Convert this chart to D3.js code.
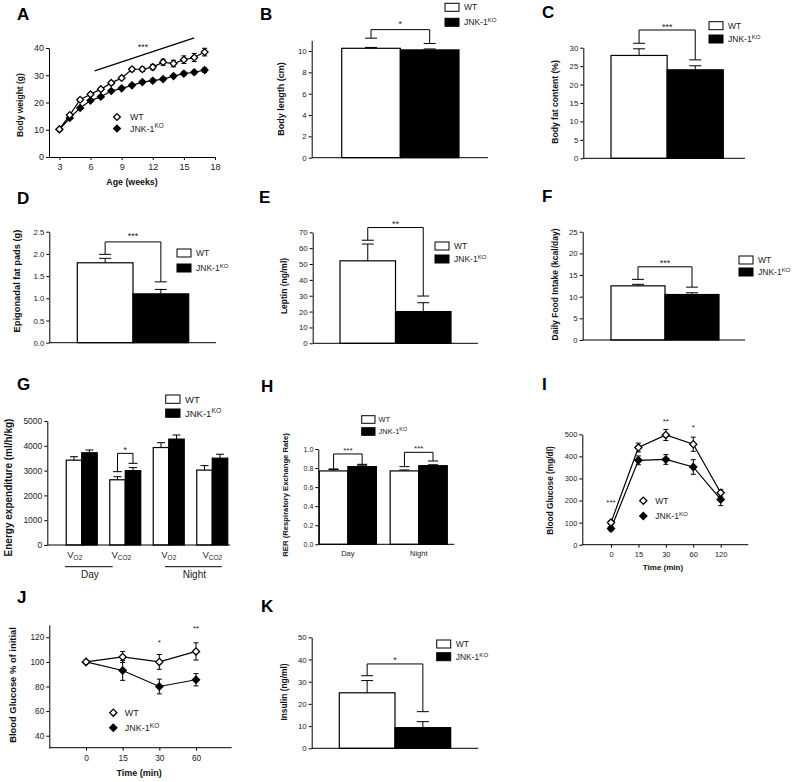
<!DOCTYPE html>
<html><head><meta charset="utf-8">
<script src="https://cdn.jsdelivr.net/npm/d3@7"></script>
<style>body{margin:0;background:#fff} svg{font-family:"Liberation Sans",Arial,sans-serif}</style>
</head><body><script>
// ---------------- DATA ----------------
const groupNames = ["WT", "JNK-1"];
const groupSups = ["", "KO"];
// A: body weight
const ages = [3,4,5,6,7,8,9,10,11,12,13,14,15,16,17];
const weightWT = [10.2,15.4,21,23,24.9,27.2,29,32.2,32.2,33,34.8,34.3,35.7,36.5,38.5];
const weightWTErr = [0.3,0.4,0.5,0.5,0.5,0.6,0.6,0.7,0.8,1.0,1.1,1.2,1.4,1.5,1.4];
const weightKO = [10.1,14.3,18,20.7,22.1,24.2,25.2,26.3,27.5,28,28.6,29.7,30.6,31.1,31.9];
const weightKOErr = [0.3,0.4,0.4,0.5,0.5,0.5,0.5,0.5,0.6,0.6,0.6,0.6,0.7,0.7,0.8];
const weightTicksX = [3,6,9,12,15,18];
const weightTicksY = [0,10,20,30,40];
const weightSigLine = [[6.4,31.6],[16,43.7]];
// B: body length
const bodyLength = [10.25, 10.1];
const bodyLengthErr = [0.08, 0.09];
const bodyLengthBracket = [11.2, 10.7, 12];
const bodyLengthTicks = [0,2,4,6,8,10];
// C: body fat
const bodyFat = [27.9, 24.0];
const bodyFatErr = [1.8, 1.1];
const bodyFatBracket = [31.2, 26.7, 34.8];
const bodyFatTicks = [0,5,10,15,20,25,30];
// D: epigonadal fat pads
const fatPads = [1.8, 1.1];
const fatPadsErr = [0.1, 0.1];
const fatPadsBracket = [1.99, 1.37, 2.27];
const fatPadsTicks = [0,0.5,1,1.5,2,2.5];
// E: leptin
const leptin = [52, 20];
const leptinErr = [10.6, 5.6];
const leptinBracket = [65, 29.8, 73];
const leptinTicks = [0,10,20,30,40,50,60,70];
// F: food intake
const foodIntake = [12.5, 10.5];
const foodIntakeErr = [0.35, 0.4];
const foodIntakeBracket = [14.0, 12.2, 16.9];
const foodIntakeTicks = [0,5,10,15,20,25];
// G: energy expenditure
const eeCategories = ["Day VO2","Day VCO2","Night VO2","Night VCO2"];
const eeSubs = ["O2","CO2","O2","CO2"];
const eePeriods = ["Day","Night"];
const eeWT = [3420, 2630, 3930, 3020];
const eeWTErr = [140, 125, 195, 180];
const eeKO = [3720, 3000, 4270, 3500];
const eeKOErr = [110, 120, 165, 160];
const eeBracket = [2957, 3293, 3696];
const eeTicks = [0,1000,2000,3000,4000,5000];
// H: RER
const rerPeriods = ["Day","Night"];
const rerWT = [0.77, 0.77];
const rerWTErr = [0.015, 0.01];
const rerKO = [0.815, 0.825];
const rerKOErr = [0.015, 0.01];
const rerBrackets = [[0.79, 0.839, 0.948],[0.815, 0.874, 0.965]];
const rerTicks = [0,0.2,0.4,0.6,0.8,1.0];
// I: glucose tolerance
const gttTimes = ["0","15","30","60","120"];
const gttWT = [100, 440, 497, 455, 235];
const gttWTErr = [8, 20, 25, 32, 15];
const gttKO = [73, 382, 386, 352, 205];
const gttKOErr = [10, 20, 22, 33, 28];
const gttStars = ["***","","**","*",""];
const gttStarLevel = [202, 0, 569, 542, 0];
const gttTicks = [0,100,200,300,400,500];
// J: insulin tolerance
const ittTimes = ["0","15","30","60"];
const ittWT = [100, 104, 100, 108.5];
const ittWTErr = [0, 4.5, 6, 7];
const ittKO = [100, 93, 80, 85.5];
const ittKOErr = [0, 8, 6, 5];
const ittStars = ["","","*","**"];
const ittStarLevel = [0, 0, 117.8, 128.7];
const ittTicks = [40,60,80,100,120];
// K: insulin
const insulin = [25, 9.3];
const insulinErr = [5.5, 2.7];
const insulinBracket = [32.7, 16.5, 38];
const insulinTicks = [0,10,20,30,40,50];

// ---------------- HELPERS ----------------
const svg = d3.select("body").append("svg").attr("width",796).attr("height",782);
const FONT = '"Liberation Sans", Arial, sans-serif';
const TXT = "#222";

function letter(t,x,y){ svg.append("text").attr("x",x).attr("y",y).attr("font-size",17).attr("font-weight","bold").text(t); }
function ytitle(t,cx,cy,fs){
  svg.append("text").attr("transform",`translate(${cx+0.26*fs},${cy}) rotate(-90)`)
    .attr("text-anchor","middle").attr("font-size",fs).attr("font-weight","bold").attr("fill","#111").text(t);
}
function xtitle(t,cx,y,fs){
  svg.append("text").attr("x",cx).attr("y",y).attr("text-anchor","middle").attr("font-size",fs).attr("font-weight","bold").attr("fill","#111").text(t);
}
function styleAxis(g,fs){
  g.attr("font-family",FONT).attr("font-size",fs);
  g.selectAll("path,line").attr("stroke","#000").attr("stroke-width",1);
  g.selectAll("text").attr("fill",TXT);
}
function yAxis(scale,x,ticks,fmt,fs){
  const g = svg.append("g").attr("transform",`translate(${x},0)`)
    .call(d3.axisLeft(scale).tickValues(ticks).tickFormat(fmt).tickSize(3).tickSizeOuter(0).tickPadding(2));
  styleAxis(g,fs);
  return g;
}
function hline(x1,x2,y){ svg.append("line").attr("x1",x1).attr("x2",x2).attr("y1",y).attr("y2",y).attr("stroke","#000").attr("stroke-width",1); }
function labelText(sel,i,fs){
  sel.text(groupNames[i]);
  if (groupSups[i]) sel.append("tspan").attr("font-size",fs*0.72).attr("dy",-fs*0.38).text(groupSups[i]);
}
function boxLegend(x,y,bw,bh,gap,fs,tx){
  groupNames.forEach((n,i)=>{
    svg.append("rect").attr("x",x).attr("y",y+i*gap).attr("width",bw).attr("height",bh)
      .attr("fill",i?"#000":"#fff").attr("stroke","#000").attr("stroke-width",1);
    const t = svg.append("text").attr("x",x+bw+tx).attr("y",y+i*gap+bh/2+fs*0.36).attr("font-size",fs).attr("fill",TXT);
    labelText(t,i,fs);
  });
}
function diamond(r){ return `M0,${-r}L${r},0L0,${r}L${-r},0Z`; }
function symLegend(x,y,gap,fs,tx,r){
  groupNames.forEach((n,i)=>{
    svg.append("path").attr("d",diamond(r)).attr("transform",`translate(${x},${y+i*gap})`)
      .attr("fill",i?"#000":"#fff").attr("stroke","#000").attr("stroke-width",1.3);
    const t = svg.append("text").attr("x",x+tx).attr("y",y+i*gap+fs*0.36).attr("font-size",fs).attr("fill",TXT);
    labelText(t,i,fs);
  });
}
function errBar(x,yTopPx,yBase,capW){
  svg.append("line").attr("x1",x).attr("x2",x).attr("y1",yBase).attr("y2",yTopPx).attr("stroke","#000").attr("stroke-width",1);
  hline(x-capW/2,x+capW/2,yTopPx);
}
function bracket(xA,xB,yA,yB,yT,capW,stars,fs,starGap){
  svg.append("path").attr("d",`M${xA},${yA}V${yT}H${xB}V${yB}`).attr("fill","none").attr("stroke","#000").attr("stroke-width",1);
  hline(xA-capW/2,xA+capW/2,yA);
  hline(xB-capW/2,xB+capW/2,yB);
  svg.append("text").attr("x",(xA+xB)/2).attr("y",yT-starGap+fs*0.58).attr("text-anchor","middle").attr("font-size",fs).attr("fill",TXT).text(stars);
}

// two-bar panel
function barPanel(o){
  const y = d3.scaleLinear().domain(o.domain).range([o.y0,o.yTop]);
  const x = d3.scaleBand().domain(groupNames).range(o.barRange);
  const bw = x.bandwidth();
  svg.append("g").selectAll("rect").data(o.values).join("rect")
    .attr("x",(d,i)=>x(groupNames[i])).attr("y",d=>y(d)).attr("width",bw).attr("height",d=>o.y0-y(d))
    .attr("fill",(d,i)=>i?"#000":"#fff").attr("stroke","#000").attr("stroke-width",1.2);
  o.values.forEach((v,i)=>{
    const cx = x(groupNames[i])+bw/2;
    errBar(cx,y(v+o.errs[i]),y(v),12);
  });
  const cA = x(groupNames[0])+bw/2, cB = x(groupNames[1])+bw/2;
  bracket(cA,cB,y(o.bracket[0]),y(o.bracket[1]),y(o.bracket[2]),12,o.stars,9,o.starGap||6);
  yAxis(y,o.axisX,o.ticks,o.fmt||d3.format("d"),o.tickFs||7.8);
  hline(o.axisX,o.xEnd,o.y0);
  boxLegend(o.leg[0],o.leg[1],14,8,o.leg[2],8.5,5);
  ytitle(o.title,o.tx,o.ty,o.tfs||8.5);
}

// line series with error bars
function series(xs,ys,vals,errs,fill,capW,r){
  const line = d3.line().x((d,i)=>xs(i)).y(d=>ys(d));
  svg.append("path").attr("d",line(vals)).attr("fill","none").attr("stroke","#000").attr("stroke-width",1.2);
  vals.forEach((v,i)=>{
    if (errs[i]>0){
      const cx = xs(i);
      svg.append("line").attr("x1",cx).attr("x2",cx).attr("y1",ys(v-errs[i])).attr("y2",ys(v+errs[i])).attr("stroke","#000").attr("stroke-width",1);
      hline(cx-capW/2,cx+capW/2,ys(v-errs[i]));
      hline(cx-capW/2,cx+capW/2,ys(v+errs[i]));
    }
  });
  svg.append("g").selectAll("path").data(vals).join("path").attr("d",diamond(r))
    .attr("transform",(d,i)=>`translate(${xs(i)},${ys(d)})`)
    .attr("fill",fill).attr("stroke","#000").attr("stroke-width",1.3);
}

// ---------------- A ----------------
letter("A",17,20);
{
  const x = d3.scaleLinear().domain([2,18]).range([49,215]);
  const y = d3.scaleLinear().domain([0,40]).range([157,48]);
  svg.append("line").attr("x1",x(weightSigLine[0][0])).attr("y1",y(weightSigLine[0][1]))
    .attr("x2",x(weightSigLine[1][0])).attr("y2",y(weightSigLine[1][1])).attr("stroke","#000").attr("stroke-width",1.2);
  svg.append("text").attr("x",143).attr("y",50).attr("text-anchor","middle").attr("font-size",9).attr("fill",TXT).text("***");
  const xs = i=>x(ages[i]);
  series(xs,y,weightKO,weightKOErr,"#000",5,3.4);
  series(xs,y,weightWT,weightWTErr,"#fff",5,3.4);
  yAxis(y,49,weightTicksY,d3.format("d"),9);
  const gx = svg.append("g").attr("transform","translate(0,157)")
    .call(d3.axisBottom(x).tickValues(weightTicksX).tickSize(3).tickSizeOuter(0).tickPadding(4));
  styleAxis(gx,9);
  symLegend(117,117,11.5,8.8,13,3.4);
  ytitle("Body weight (g)",20.8,105,8.5);
  xtitle("Age (weeks)",132,184.5,8.8);
}

// ---------------- B-F, K ----------------
letter("B",260,20);
barPanel({values:bodyLength,errs:bodyLengthErr,bracket:bodyLengthBracket,stars:"*",starGap:7.5,
  domain:[0,11],y0:157.7,yTop:40.3,barRange:[341.7,459],axisX:311.7,xEnd:488,ticks:bodyLengthTicks,
  leg:[445,3.3,15],title:"Body length (cm)",tx:282,ty:99,tfs:9});
letter("C",542,18);
barPanel({values:bodyFat,errs:bodyFatErr,bracket:bodyFatBracket,stars:"***",starGap:5,
  domain:[0,30],y0:158.3,yTop:47.7,barRange:[611,723.3],axisX:583.3,xEnd:745,ticks:bodyFatTicks,
  leg:[709,21.7,13.3],title:"Body fat content (%)",tx:556,ty:102,tfs:8.6});
letter("D",17,204);
barPanel({values:fatPads,errs:fatPadsErr,bracket:fatPadsBracket,stars:"***",starGap:8.5,
  domain:[0,2.5],y0:342.7,yTop:231.7,barRange:[77.3,188.7],axisX:49.3,xEnd:216,ticks:fatPadsTicks,fmt:d3.format(".1f"),
  leg:[177,249,15],title:"Epigonadal fat pads (g)",tx:17.5,ty:281,tfs:9.3});
letter("E",259,203);
barPanel({values:leptin,errs:leptinErr,bracket:leptinBracket,stars:"**",starGap:5.5,
  domain:[0,70],y0:343.3,yTop:232.3,barRange:[340,451],axisX:312.7,xEnd:478,ticks:leptinTicks,
  leg:[435,242,13],title:"Leptin (ng/ml)",tx:284.7,ty:286,tfs:8.5});
letter("F",542,202);
barPanel({values:foodIntake,errs:foodIntakeErr,bracket:foodIntakeBracket,stars:"***",starGap:5.7,
  domain:[0,25],y0:340,yTop:231.7,barRange:[611,719],axisX:582.7,xEnd:745,ticks:foodIntakeTicks,
  leg:[739,256,12],title:"Daily Food Intake (kcal/day)",tx:556,ty:284.5,tfs:8.5});
letter("K",261,612);
barPanel({values:insulin,errs:insulinErr,bracket:insulinBracket,stars:"*",starGap:6.3,
  domain:[0,50],y0:748.3,yTop:637.3,barRange:[339.3,450.7],axisX:311.7,xEnd:478.3,ticks:insulinTicks,
  leg:[436.7,640,12.7],title:"Insulin (ng/ml)",tx:284.5,ty:692,tfs:8.4});

// ---------------- G ----------------
letter("G",17,390);
{
  const y = d3.scaleLinear().domain([0,5000]).range([545,421]);
  const x0 = d3.scaleBand().domain(eeCategories).range([60,234]).paddingInner(0.2874).paddingOuter(0.1437);
  const x1 = d3.scaleBand().domain(groupNames).range([0,x0.bandwidth()]);
  const bw = x1.bandwidth();
  const sets = [[eeWT,eeWTErr],[eeKO,eeKOErr]];
  sets.forEach(([vals,errs],gi)=>{
    svg.append("g").selectAll("rect").data(vals).join("rect")
      .attr("x",(d,i)=>x0(eeCategories[i])+x1(groupNames[gi])).attr("y",d=>y(d))
      .attr("width",bw).attr("height",d=>545-y(d))
      .attr("fill",gi?"#000":"#fff").attr("stroke","#000").attr("stroke-width",1.2);
    vals.forEach((v,i)=>{
      const cx = x0(eeCategories[i])+x1(groupNames[gi])+bw/2;
      errBar(cx,y(v+errs[i]),y(v),8);
    });
  });
  const cA = x0(eeCategories[1])+x1(groupNames[0])+bw/2;
  const cB = x0(eeCategories[1])+x1(groupNames[1])+bw/2;
  bracket(cA,cB,y(eeBracket[0]),y(eeBracket[1]),y(eeBracket[2]),9,"*",9,6);
  yAxis(y,47.3,eeTicks,d3.format("d"),8.5);
  hline(47.3,230,545);
  const shift = [-7,-4,0,0];
  eeCategories.forEach((c,i)=>{
    const t = svg.append("text").attr("x",x0(c)+x0.bandwidth()/2+shift[i]).attr("y",557.5)
      .attr("text-anchor","middle").attr("font-size",9.5).attr("fill",TXT).text("V");
    t.append("tspan").attr("font-size",6.5).attr("dy",2.5).text(eeSubs[i]);
  });
  const spans = [[65,112.7],[165,221.7]];
  eePeriods.forEach((p,i)=>{
    hline(spans[i][0],spans[i][1],566.7);
    svg.append("text").attr("x",(spans[i][0]+spans[i][1])/2+1).attr("y",578).attr("text-anchor","middle")
      .attr("font-size",10).attr("fill",TXT).text(p);
  });
  boxLegend(165.7,395,14.3,8.3,14,9.5,5);
  ytitle("Energy expenditure (ml/h/kg)",9.5,487.5,10);
}

// ---------------- H ----------------
letter("H",261,392);
{
  const y = d3.scaleLinear().domain([0,1]).range([544.3,449]);
  const x0 = d3.scaleBand().domain(rerPeriods).range([319.3,447.3]).paddingInner(0.194);
  const x1 = d3.scaleBand().domain(groupNames).range([0,x0.bandwidth()]);
  const bw = x1.bandwidth();
  [[rerWT,rerWTErr],[rerKO,rerKOErr]].forEach(([vals,errs],gi)=>{
    svg.append("g").selectAll("rect").data(vals).join("rect")
      .attr("x",(d,i)=>x0(rerPeriods[i])+x1(groupNames[gi])).attr("y",d=>y(d))
      .attr("width",bw).attr("height",d=>544.3-y(d))
      .attr("fill",gi?"#000":"#fff").attr("stroke","#000").attr("stroke-width",1.2);
    vals.forEach((v,i)=>{
      const cx = x0(rerPeriods[i])+x1(groupNames[gi])+bw/2;
      errBar(cx,y(v+errs[i]),y(v),10);
    });
  });
  rerPeriods.forEach((p,i)=>{
    const cA = x0(p)+x1(groupNames[0])+bw/2, cB = x0(p)+x1(groupNames[1])+bw/2;
    const b = rerBrackets[i];
    bracket(cA,cB,y(b[0]),y(b[1]),y(b[2]),10,"***",8,6);
    svg.append("text").attr("x",x0(p)+x0.bandwidth()/2).attr("y",555.5).attr("text-anchor","middle")
      .attr("font-size",7.5).attr("fill",TXT).text(p);
  });
  yAxis(y,318.3,rerTicks,d3.format(".1f"),7);
  hline(318.3,454.3,544.3);
  boxLegend(361.7,415.7,13.3,7.6,12,7.5,3.5);
  ytitle("RER (Respiratory Exchange Rate)",285.5,495,7.7);
}

// ---------------- I ----------------
letter("I",542,390);
{
  const x = d3.scalePoint().domain(gttTimes).range([611,720.7]);
  const y = d3.scaleLinear().domain([0,500]).range([544.7,434.3]);
  const xs = i=>x(gttTimes[i]);
  series(xs,y,gttKO,gttKOErr,"#000",5,3.6);
  series(xs,y,gttWT,gttWTErr,"#fff",5,3.6);
  gttStars.forEach((s,i)=>{ if(s) svg.append("text").attr("x",xs(i)).attr("y",y(gttStarLevel[i])+4.6)
    .attr("text-anchor","middle").attr("font-size",8).attr("fill",TXT).text(s); });
  yAxis(y,582.3,gttTicks,d3.format("d"),7.5);
  const gx = svg.append("g").attr("transform","translate(0,544.7)")
    .call(d3.axisBottom(x).tickSize(3).tickSizeOuter(0).tickPadding(4));
  gx.select(".domain").remove();
  styleAxis(gx,7.5);
  hline(582.3,748.3,544.7);
  symLegend(643.3,500.7,15.3,8.5,12,3.6);
  ytitle("Blood Glucose (mg/dl)",550.8,490.5,8.3);
  xtitle("Time (min)",663,570,8);
}

// ---------------- J ----------------
letter("J",17,603);
{
  const x = d3.scalePoint().domain(ittTimes).range([86,196]);
  const y = d3.scaleLinear().domain([30,130]).range([748,625]);
  const xs = i=>x(ittTimes[i]);
  series(xs,y,ittKO,ittKOErr,"#000",5,3.6);
  series(xs,y,ittWT,ittWTErr,"#fff",5,3.6);
  ittStars.forEach((s,i)=>{ if(s) svg.append("text").attr("x",xs(i)).attr("y",y(ittStarLevel[i])+4.6)
    .attr("text-anchor","middle").attr("font-size",8).attr("fill",TXT).text(s); });
  yAxis(y,49.3,ittTicks,d3.format("d"),8.3);
  const gx = svg.append("g").attr("transform","translate(0,747.7)")
    .call(d3.axisBottom(x).tickSize(3).tickSizeOuter(0).tickPadding(4.5));
  gx.select(".domain").remove();
  styleAxis(gx,8.3);
  hline(49.3,231.7,747.7);
  symLegend(113.3,712.7,15,9,11.5,3.6);
  ytitle("Blood Glucose % of initial",13.3,685,9.4);
  xtitle("Time (min)",139.2,776,9);
}
</script></body></html>
